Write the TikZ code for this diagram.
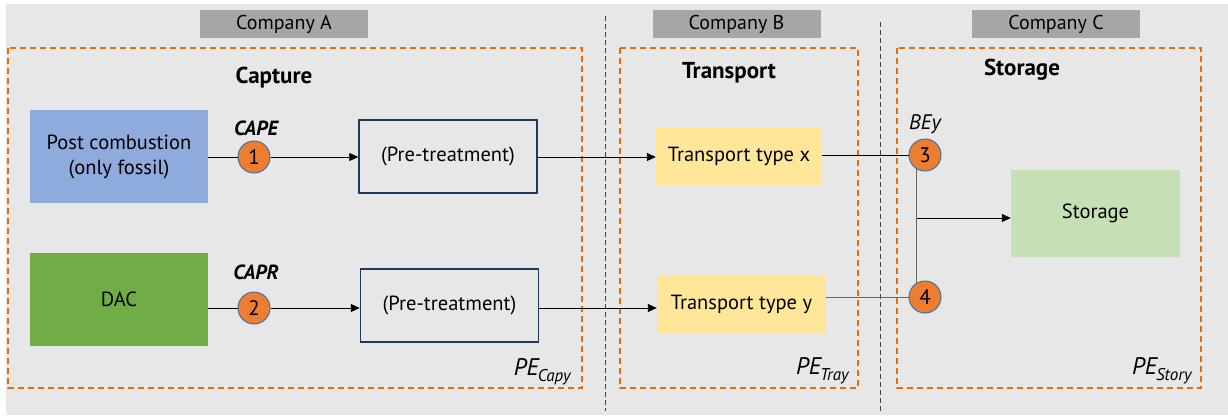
\documentclass[tikz,border=0pt]{standalone}
\usepackage{fontspec}
\setmainfont{PT Sans}
\usetikzlibrary{arrows.meta,calc}
\definecolor{bg}{HTML}{E7E7E7}
\definecolor{compgrey}{HTML}{A6A6A6}
\definecolor{dashorange}{HTML}{E46C0A}
\definecolor{pcblue}{HTML}{8FAADC}
\definecolor{dacgreen}{HTML}{70AD47}
\definecolor{trayellow}{HTML}{FFE699}
\definecolor{stgreen}{HTML}{C5E0B4}
\definecolor{navy}{HTML}{1F3864}
\definecolor{circorange}{HTML}{ED7D31}
\definecolor{circblue}{HTML}{41719C}
\definecolor{sepgrey}{HTML}{404040}
\tikzset{
  company/.style={fill=compgrey, minimum width=168pt, minimum height=28pt, inner sep=0pt, font=\fontsize{20}{22}\selectfont},
  area/.style={draw=dashorange, line width=1.5pt, dash pattern=on 6pt off 4pt},
  sep/.style={draw=sepgrey, line width=0.8pt, dash pattern=on 5pt off 3pt},
  title/.style={font=\fontsize{23}{25}\selectfont\bfseries},
  filled/.style={minimum width=178pt, minimum height=93pt, inner sep=0pt, align=center, font=\fontsize{20.5}{25}\selectfont},
  pretreat/.style={draw=navy, line width=1.5pt, minimum width=178pt, minimum height=73pt, inner sep=0pt, font=\fontsize{20.5}{24}\selectfont},
  trbox/.style={fill=trayellow, minimum height=57pt, inner sep=0pt, font=\fontsize{20.5}{24}\selectfont},
  num/.style={circle, fill=circorange, draw=circblue, line width=1pt, minimum size=32pt, inner sep=0pt, font=\fontsize{21}{22}\selectfont},
  param/.style={font=\fontsize{20.5}{24}\selectfont\bfseries\itshape},
  pe/.style={font=\fontsize{24}{26}\selectfont\itshape, anchor=east},
  conn/.style={draw=black, line width=0.9pt},
  arr/.style={conn, -{Triangle[length=9pt,width=8pt]}}
}
\newcommand{\pesub}[1]{PE\kern-1pt\raisebox{-0.25em}{\fontsize{17}{18}\selectfont #1}}
\begin{document}
\begin{tikzpicture}[x=1pt,y=-1pt]
\useasboundingbox (0,0) rectangle (1228,415);
\fill[white] (0,0) rectangle (1228,415);
\fill[bg] (6,4) rectangle (1228,415);
% separators
\draw[sep] (605,16) -- (605,411);
\draw[sep] (880,22) -- (880,411);
% companies
\node[company] (compA) at (284,24) {Company A};
\node[company] (compB) at (736.5,24) {Company B};
\node[company] (compC) at (1056,24) {Company C};
% areas
\draw[area] (8,48) rectangle (582,388);
\draw[area] (620,48) rectangle (858,388);
\draw[area] (897,48) rectangle (1201,388);
\node[title] (tcap) at (274,78) {Capture};
\node[title] (ttr) at (729,73) {Transport};
\node[title] (tst) at (1022,70) {Storage};
% capture
\node[filled, fill=pcblue] (pc) at (119,156.5) {Post combustion\\(only fossil)};
\node[filled, fill=dacgreen] (dac) at (119,299.5) {DAC};
\node[pretreat] (pt1) at (448,156.5) {(Pre-treatment)};
\node[pretreat] (pt2) at (449.5,305.5) {(Pre-treatment)};
\node[num] (c1) at (254,157) {1};
\node[num] (c2) at (254,308) {2};
\node[param] (lcape) at (256,128) {CAPE};
\node[param] (lcapr) at (256,272) {CAPR};
% transport
\node[trbox, minimum width=166pt] (tx) at (739,156.5) {Transport type x};
\node[trbox, minimum width=169pt] (ty) at (741.5,304) {Transport type y};
% storage
\node[num] (c3) at (925,155) {3};
\node[num] (c4) at (925,297) {4};
\node[font=\fontsize{21}{24}\selectfont\itshape] (lbey) at (925,124) {BEy};
\node[fill=stgreen, minimum width=169pt, minimum height=87pt, inner sep=0pt, font=\fontsize{20.5}{24}\selectfont] (st) at (1095.5,213.5) {Storage};
% PE labels
\node[pe] (pecap) at (574,372) {\pesub{Capy}};
\node[pe] (petr) at (852,371) {\pesub{Tray}};
\node[pe] (pest) at (1195,371) {\pesub{Story}};
% connectors
\draw[conn] (pc.east |- c1) -- (c1);
\draw[arr] (c1) -- (pt1.west |- c1);
\draw[conn] (dac.east |- c2) -- (c2);
\draw[arr] (c2) -- (pt2.west |- c2);
\draw[arr] (pt1.east |- c1) -- (tx.west |- c1);
\draw[arr] (pt2.east |- c2) -- (ty.west |- c2);
\draw[conn] (tx.east |- c3) -- (c3);
\draw[conn, draw=sepgrey!80] (ty.east |- c4) -- (c4);
\draw[conn, draw=sepgrey!80] (c3.240) -- (c4.120);
\coordinate (j) at (917,218);
\draw[arr] (j) -- (j -| st.west);
\end{tikzpicture}
\end{document}
